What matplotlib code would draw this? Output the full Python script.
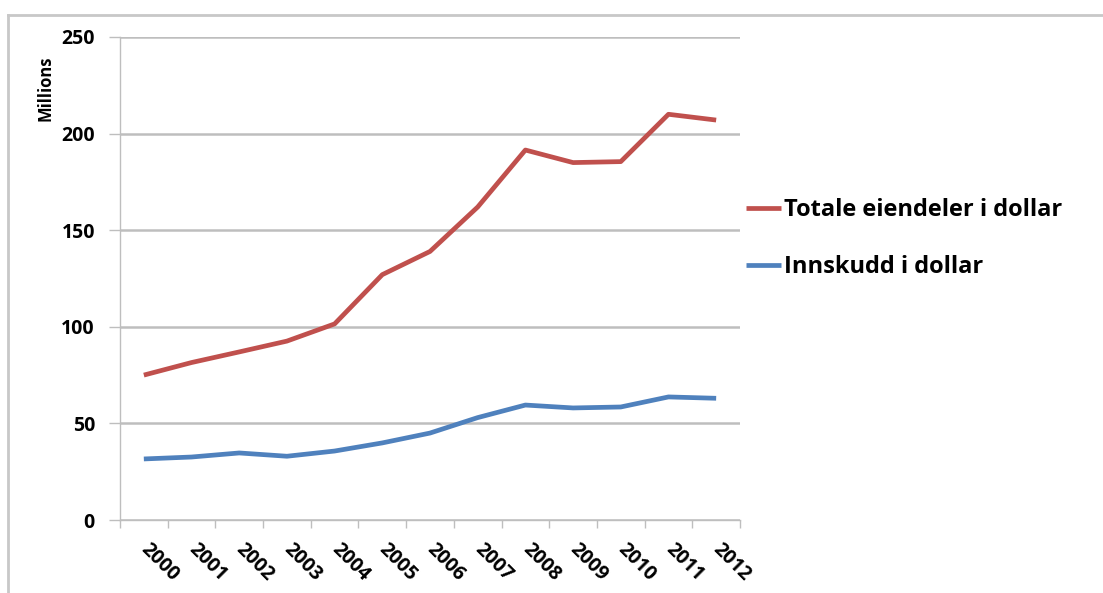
import numpy as np
import matplotlib.pyplot as plt
from matplotlib.lines import Line2D

years = ['2000', '2001', '2002', '2003', '2004', '2005', '2006',
         '2007', '2008', '2009', '2010', '2011', '2012']
totale = [75, 81.5, 87, 92.6, 101.5, 127, 139, 162, 191.5, 185, 185.5, 210, 207]
innskudd = [31.6, 32.6, 34.7, 33, 35.7, 39.9, 45, 53, 59.5, 58, 58.5, 63.7, 63]

red = '#C0504D'
blue = '#4F81BD'
grid = '#BEBEBE'

plt.rcParams['font.family'] = ['Open Sans', 'DejaVu Sans']

fig = plt.figure(figsize=(11.03, 5.93), dpi=100)
ax = fig.add_axes([120/1103, 73/593, 620/1103, 483/593])

x = np.arange(len(years))
ax.plot(x, totale, color=red, lw=3.4, solid_capstyle='butt', label='Totale eiendeler i dollar')
ax.plot(x, innskudd, color=blue, lw=3.4, solid_capstyle='butt', label='Innskudd i dollar')

ax.set_xlim(-0.5, len(years) - 0.5)
ax.set_ylim(0, 250)
ax.set_yticks(np.arange(0, 251, 50))
ax.yaxis.grid(True, color=grid, lw=1.8)
ax.set_axisbelow(True)

# ticks sit between categories, labels at category centres
ax.set_xticks(np.arange(-0.5, len(years)), minor=False)
ax.set_xticklabels([])
ax.set_xticks(x, minor=True)
ax.set_xticklabels(years, minor=True, rotation=-45, rotation_mode='anchor',
                   ha='left', va='center', fontsize=14, fontweight='bold')
ax.tick_params(axis='x', which='minor', length=0, pad=19)
ax.tick_params(axis='x', which='major', length=6, color=grid, width=1)
ax.tick_params(axis='y', length=8, color=grid, width=1, labelsize=14, pad=10)
for lab in ax.get_yticklabels():
    lab.set_fontweight('bold')

for s in ['top', 'right']:
    ax.spines[s].set_visible(False)
for s in ['left', 'bottom']:
    ax.spines[s].set_color(grid)
    ax.spines[s].set_linewidth(1)

ax.set_ylabel('Millions', fontsize=12, fontweight='bold')
ax.yaxis.set_label_coords(-0.105, 0.894)

ax.legend(loc='upper left', bbox_to_anchor=(0.975, 0.71), frameon=False,
          handlelength=1.5, handletextpad=0.1, labelspacing=1.4,
          prop={'size': 17, 'weight': 'bold'})

# chart area border
fig.add_artist(Line2D([8/1103, 1], [1 - 15/593, 1 - 15/593], color='#C8C8C8', lw=2))
fig.add_artist(Line2D([8/1103, 8/1103], [0, 1 - 15/593], color='#C8C8C8', lw=2))

fig.savefig('out.png', dpi=100)
